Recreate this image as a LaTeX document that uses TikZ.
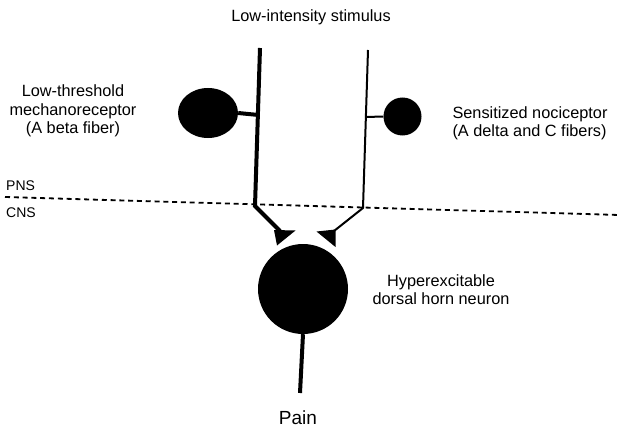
\documentclass[tikz,border=0pt]{standalone}
\usepackage{fontspec}
\setmainfont{Liberation Sans}
\usetikzlibrary{shapes.geometric}

\begin{document}
\begin{tikzpicture}[
  x=1pt, y=-1pt,
  lbl/.style={align=center, inner sep=0pt, font=\fontsize{16.3}{18.3}\selectfont},
  small/.style={inner sep=0pt, font=\fontsize{14}{16}\selectfont},
  soma/.style={fill=black, draw=none, inner sep=0pt},
  abfiber/.style={line width=4pt, line join=miter},
  cfiber/.style={line width=2pt, line join=miter},
  term/.style={fill=black, draw=none}
]
  \useasboundingbox (0,0) rectangle (619,428);

  % labels
  \node[lbl] (stim) at (311,17) {Low-intensity stimulus};
  \node[lbl] (mech) at (73,111) {Low-threshold\\ mechanoreceptor\\ (A beta fiber)};
  \node[lbl, align=left] (noci) at (530,123) {Sensitized nociceptor\\ (A delta and C fibers)};
  \node[lbl] (horn) at (441,290) {Hyperexcitable\\ dorsal horn neuron};
  \node[lbl, font=\fontsize{19}{21}\selectfont] (pain) at (298,418) {Pain};
  \node[small, anchor=west] (pns) at (6,186) {PNS};
  \node[small, anchor=west] (cns) at (6,213) {CNS};

  % cell bodies
  \node[soma, ellipse, minimum width=60pt, minimum height=50pt] (abeta) at (208,113) {};
  \node[soma, circle, minimum size=38pt] (cdelta) at (402.5,116.5) {};
  \node[soma, circle, minimum size=90pt] (dhn) at (303,289) {};

  % fibers
  \coordinate (ltop) at (260,48);
  \coordinate (ljoin) at (258.5,115);
  \coordinate (lbend) at (255,206);
  \coordinate (lend) at (280,231);
  \coordinate (rtop) at (368,50);
  \coordinate (rjoin) at (366,117);
  \coordinate (rbend) at (363,208);
  \coordinate (rend) at (334,231);
  \coordinate (pnsL) at (5,197);
  \coordinate (pnsR) at (619,215);
  \coordinate (axend) at (300,393);

  \draw[abfiber] (ltop) -- (lbend) -- (lend);
  \draw[abfiber] (abeta.east) -- (ljoin);
  \draw[cfiber] (rtop) -- (rbend) -- (rend);
  \draw[cfiber] (rjoin) -- (cdelta.west);
  \draw[line width=4pt] (dhn.south) -- (axend);

  % synaptic terminals
  \fill[term] (274,230) -- (295.5,230.5) -- (277,245.5) -- cycle;
  \fill[term] (316.5,231.5) -- (335.5,229.5) -- (335.5,247) -- cycle;

  % PNS / CNS border
  \draw[line width=1.8pt, dash pattern=on 5pt off 3.8pt] (pnsL) -- (pnsR);
\end{tikzpicture}
\end{document}
